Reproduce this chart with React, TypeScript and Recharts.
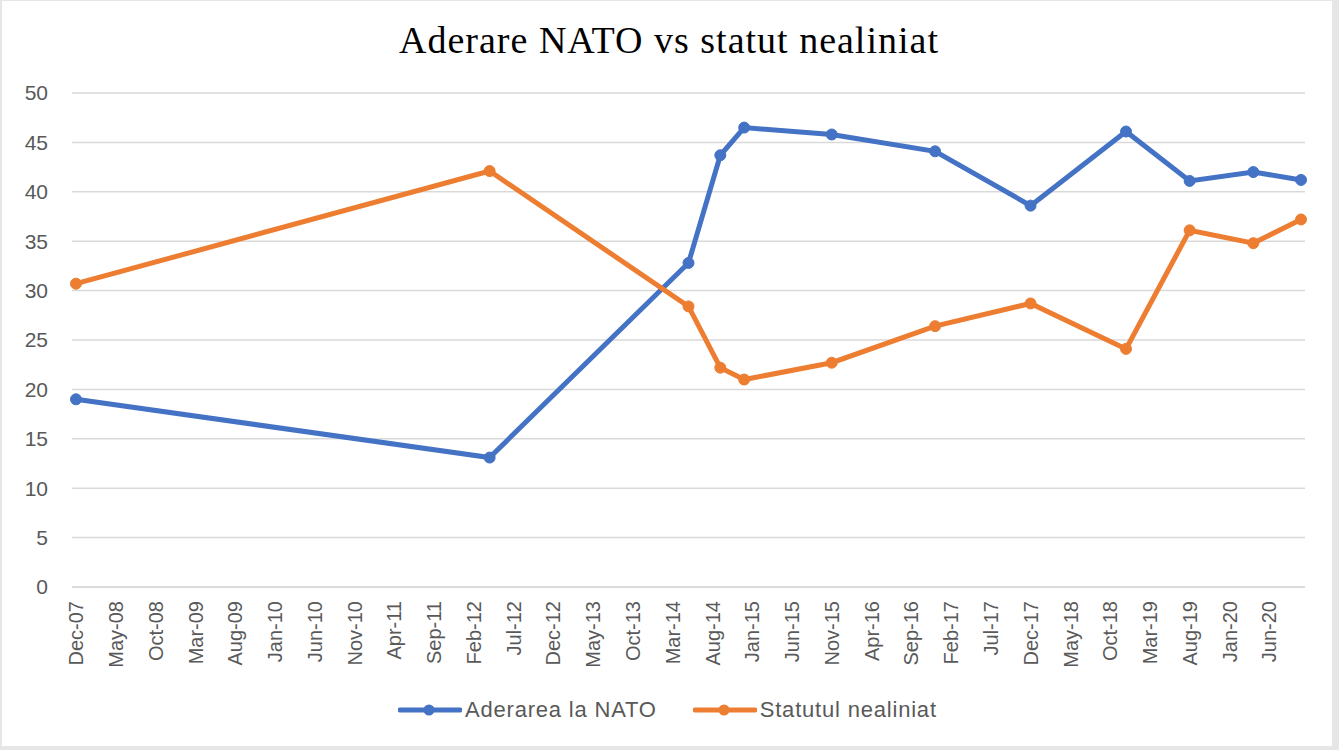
import { LineChart, Line, XAxis, YAxis, CartesianGrid } from "recharts";

const MONTHS = ["Jan", "Feb", "Mar", "Apr", "May", "Jun", "Jul", "Aug", "Sep", "Oct", "Nov", "Dec"];

// survey dates (Mon-YY) and values
const DATES = ["Dec-07", "Apr-12", "May-14", "Sep-14", "Dec-14", "Nov-15", "Dec-16", "Dec-17", "Dec-18", "Aug-19", "Apr-20", "Oct-20"];
const NATO = [19.0, 13.1, 32.8, 43.7, 46.5, 45.8, 44.1, 38.6, 46.1, 41.1, 42.0, 41.2];
const NEALINIAT = [30.7, 42.1, 28.4, 22.2, 21.0, 22.7, 26.4, 28.7, 24.1, 36.1, 34.8, 37.2];

const Y_TICKS = [0, 5, 10, 15, 20, 25, 30, 35, 40, 45, 50];
// axis labels every 5 months starting Dec-07
const X_TICK_LABELS = ["Dec-07", "May-08", "Oct-08", "Mar-09", "Aug-09", "Jan-10", "Jun-10", "Nov-10", "Apr-11", "Sep-11",
  "Feb-12", "Jul-12", "Dec-12", "May-13", "Oct-13", "Mar-14", "Aug-14", "Jan-15", "Jun-15", "Nov-15",
  "Apr-16", "Sep-16", "Feb-17", "Jul-17", "Dec-17", "May-18", "Oct-18", "Mar-19", "Aug-19", "Jan-20", "Jun-20"];

const BLUE = "#4472C4";
const ORANGE = "#ED7D31";
const TEXT = "#595959";
const FONT = "'Liberation Sans', Arial, sans-serif";

// months since Dec-07
const monthIndex = (s: string) => {
  const [mon, yy] = s.split("-");
  return (2000 + Number(yy)) * 12 + MONTHS.indexOf(mon) - (2007 * 12 + 11);
};

const data = DATES.map((d, i) => ({ m: monthIndex(d), nato: NATO[i], neal: NEALINIAT[i] }));
const xTicks = X_TICK_LABELS.map(monthIndex);
const labelFor = (m: number) => X_TICK_LABELS[xTicks.indexOf(m)] ?? "";

const XTick = ({ x, y, payload }: any) => (
  <g transform={`translate(${x},${y})`}>
    <text transform="rotate(-90)" textAnchor="end" dy="0.36em" fontSize={20} fill={TEXT} fontFamily={FONT}>
      {labelFor(payload.value)}
    </text>
  </g>
);

const LegendItem = ({ color, label }: { color: string; label: string }) => (
  <div style={{ display: "flex", alignItems: "center" }}>
    <svg width={64} height={14}>
      <line x1={2} y1={7} x2={62} y2={7} stroke={color} strokeWidth={5} strokeLinecap="round" />
      <circle cx={31} cy={7} r={5.5} fill={color} />
    </svg>
    <span style={{ fontSize: 22, letterSpacing: 0.8, color: TEXT, fontFamily: FONT, marginLeft: 3 }}>{label}</span>
  </div>
);

export default function App() {
  return (
    <div style={{ position: "absolute", left: 0, top: 0, width: 1339, height: 750, background: "#e6e6e6" }}>
      <div style={{ position: "absolute", left: 2, top: 1, width: 1330, height: 745, background: "#fff" }} />
      <div style={{ position: "absolute", left: 0, top: 0 }}>
        <LineChart width={1339} height={750} data={data} margin={{ top: 93, right: 34, bottom: 0, left: 0 }}>
          <text x={669} y={53} textAnchor="middle" fontSize={38} letterSpacing={1}
            fontFamily="'Liberation Serif', 'Times New Roman', serif" fill="#000">
            Aderare NATO vs statut nealiniat
          </text>
          <CartesianGrid vertical={false} stroke="#d9d9d9" strokeWidth={1.5} />
          <XAxis dataKey="m" type="number" domain={[-0.5, 154.5]} ticks={xTicks} interval={0}
            height={163} axisLine={{ stroke: "#d9d9d9", strokeWidth: 1.5 }} tickLine={false}
            tickSize={0} tickMargin={14} tick={<XTick />} />
          <YAxis domain={[0, 50]} ticks={Y_TICKS} width={72} axisLine={false} tickLine={false}
            tickSize={0} tickMargin={24} tick={{ fontSize: 21, fill: TEXT, fontFamily: FONT }} />
          <Line dataKey="nato" stroke={BLUE} strokeWidth={5} isAnimationActive={false}
            dot={{ r: 5.5, fill: BLUE, stroke: BLUE, strokeWidth: 1 }} />
          <Line dataKey="neal" stroke={ORANGE} strokeWidth={5} isAnimationActive={false}
            dot={{ r: 5.5, fill: ORANGE, stroke: ORANGE, strokeWidth: 1 }} />
        </LineChart>
      </div>
      <div style={{ position: "absolute", left: 398, top: 697, display: "flex", gap: 36 }}>
        <LegendItem color={BLUE} label="Aderarea la NATO" />
        <LegendItem color={ORANGE} label="Statutul nealiniat" />
      </div>
    </div>
  );
}
